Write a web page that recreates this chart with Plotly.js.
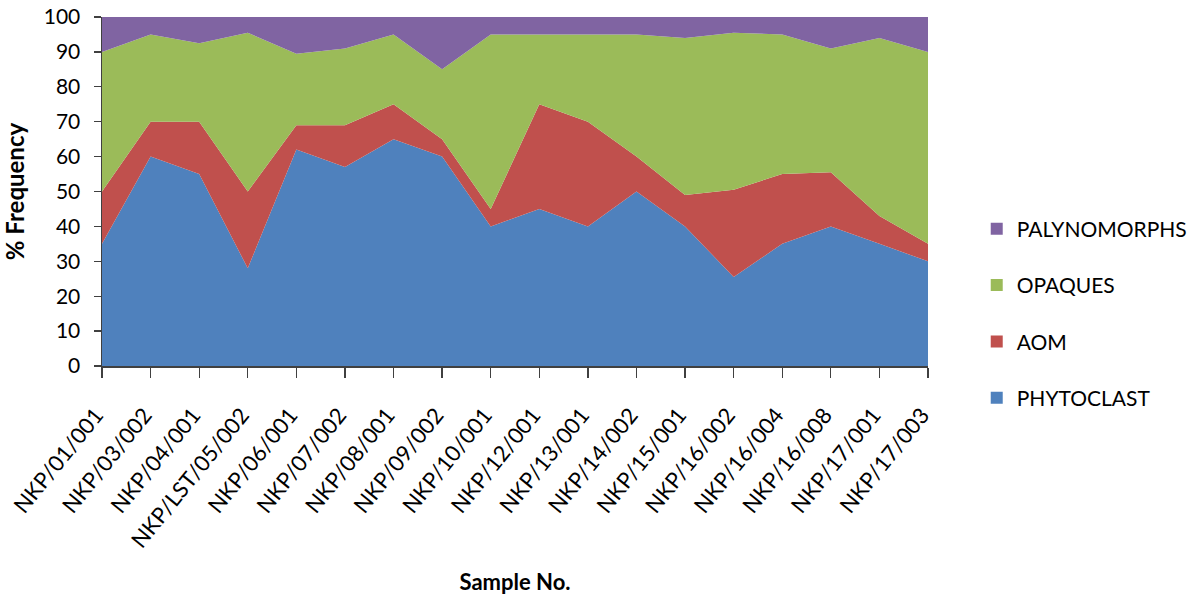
<!DOCTYPE html>
<html>
<head>
<meta charset="utf-8">
<script src="https://cdn.plot.ly/plotly-3.0.1.min.js"></script>
<style>
  html, body { margin: 0; padding: 0; background: #ffffff; }
  #chart { width: 1204px; height: 605px; }
</style>
</head>
<body>
<div id="chart"></div>
<script>
// Sample identifiers along the x axis
const samples = [
  "NKP/01/001", "NKP/03/002", "NKP/04/001", "NKP/LST/05/002", "NKP/06/001",
  "NKP/07/002", "NKP/08/001", "NKP/09/002", "NKP/10/001", "NKP/12/001",
  "NKP/13/001", "NKP/14/002", "NKP/15/001", "NKP/16/002", "NKP/16/004",
  "NKP/16/008", "NKP/17/001", "NKP/17/003"
];

// Percentage frequency of each kerogen component per sample
const phytoclast = [35, 60, 55, 28, 62, 57, 65, 60, 40, 45, 40, 50, 40, 25.5, 35, 40, 35, 30];
const aom        = [15, 10, 15, 22, 7, 12, 10, 5, 5, 30, 30, 10, 9, 25, 20, 15.5, 8, 5];
const opaques    = [40, 25, 22.5, 45.5, 20.5, 22, 20, 20, 50, 20, 25, 35, 45, 45, 40, 35.5, 51, 55];
const palyno     = [10, 5, 7.5, 4.5, 10.5, 9, 5, 15, 5, 5, 5, 5, 6, 4.5, 5, 9, 6, 10];

const yTicks = [0, 10, 20, 30, 40, 50, 60, 70, 80, 90, 100];

const series = [
  { name: "PHYTOCLAST",   values: phytoclast, color: "#4F81BD" },
  { name: "AOM",          values: aom,        color: "#C0504D" },
  { name: "OPAQUES",      values: opaques,    color: "#9BBB59" },
  { name: "PALYNOMORPHS", values: palyno,     color: "#8064A2" }
];

const traces = [];
// Stacked areas, bottom to top
series.forEach(s => {
  traces.push({
    type: "scatter",
    mode: "none",
    x: samples,
    y: s.values,
    stackgroup: "kerogen",
    fillcolor: s.color,
    line: { width: 0 },
    name: s.name,
    showlegend: false,
    hoverinfo: "x+y+name"
  });
});
// Square legend keys, listed top series first
series.slice().reverse().forEach((s, i) => {
  traces.push({
    type: "bar",
    x: [samples[0]],
    y: [null],
    name: s.name,
    marker: { color: s.color },
    legendgroup: "g" + i,
    showlegend: true,
    hoverinfo: "skip"
  });
});

const font = "Lato, 'Liberation Sans', sans-serif";

const layout = {
  width: 1204,
  height: 605,
  paper_bgcolor: "#ffffff",
  plot_bgcolor: "#ffffff",
  margin: { l: 102, r: 276, t: 17, b: 239, autoexpand: false },
  font: { family: font, color: "#000000", size: 21 },
  xaxis: {
    type: "category",
    range: [0, samples.length - 1],
    tickangle: -51,
    ticks: "outside",
    ticklen: 10,
    tickcolor: "#404040",
    tickwidth: 1.3,
    ticklabelstandoff: 16,
    ticklabelshift: -6,
    showline: true,
    linecolor: "#404040",
    linewidth: 1.5,
    showgrid: false,
    zeroline: false,
    tickfont: { family: font, size: 22, color: "#000000" },
    title: { text: "<b>Sample No.</b>", font: { family: font, size: 22, color: "#000000" }, standoff: 23 }
  },
  yaxis: {
    range: [0, 100],
    tickvals: yTicks,
    ticktext: yTicks.map(String),
    ticks: "outside",
    ticklen: 7,
    tickcolor: "#404040",
    tickwidth: 1.3,
    ticklabelstandoff: 9,
    showline: true,
    linecolor: "#404040",
    linewidth: 1.5,
    showgrid: false,
    zeroline: false,
    tickfont: { family: font, size: 21, color: "#000000" },
    title: { text: "<b>% Frequency</b>", font: { family: font, size: 24, color: "#000000" }, standoff: 14 }
  },
  showlegend: true,
  legend: {
    x: 1.059,
    xanchor: "left",
    y: 0.15,
    yanchor: "middle",
    traceorder: "grouped",
    tracegroupgap: 26,
    font: { family: font, size: 21, color: "#000000" },
    bgcolor: "rgba(0,0,0,0)",
    itemclick: false,
    itemdoubleclick: false
  },
  hovermode: "closest"
};

Plotly.newPlot("chart", traces, layout, { displayModeBar: false, staticPlot: true });
</script>
</body>
</html>
